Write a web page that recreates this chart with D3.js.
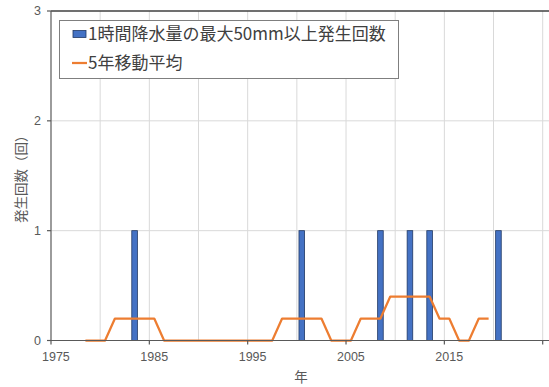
<!DOCTYPE html>
<html><head><meta charset="utf-8">
<script src="https://cdn.jsdelivr.net/npm/d3@7"></script>
<style>
html,body{margin:0;padding:0;background:#fff;}
svg{display:block;}
</style></head>
<body>
<svg id="chart" width="549" height="387"></svg>
<script>
// Data
const barYears = [1983, 2000, 2008, 2011, 2013, 2020];
const barCounts = [1, 1, 1, 1, 1, 1];
const maYears = [1978,1979,1980,1981,1982,1983,1984,1985,1986,1987,1988,1989,1990,1991,1992,1993,1994,1995,1996,1997,1998,1999,2000,2001,2002,2003,2004,2005,2006,2007,2008,2009,2010,2011,2012,2013,2014,2015,2016,2017,2018,2019];
const maValues = [0,0,0,0.2,0.2,0.2,0.2,0.2,0,0,0,0,0,0,0,0,0,0,0,0,0.2,0.2,0.2,0.2,0.2,0,0,0,0.2,0.2,0.2,0.4,0.4,0.4,0.4,0.4,0.2,0.2,0,0,0.2,0.2];
const xTickYears = [1975,1985,1995,2005,2015,2025];
const xLabelYears = [1975,1985,1995,2005,2015];
const xGridYears = [1980,1985,1990,1995,2000,2005,2010,2015,2020,2025];
const yTicks = [0,1,2,3];
const legendLabels = ["1時間降水量の最大50mm以上発生回数", "5年移動平均"];
const yTitle = "発生回数（回）";
const xTitle = "年";

(function () {
const svg = d3.select("#chart");
const pL = 51, pR = 549, pT = 11, pB = 340.5;
const x = d3.scaleLinear().domain([1975, 2025]).range([pL, pL + 491.7]);
const y = d3.scaleLinear().domain([0, 3]).range([pB, pT]);
const textColor = "#595959";
const tickFont = "Liberation Sans, Arial, sans-serif";
const cjkFont = "Noto Sans CJK JP, sans-serif";

// gridlines
svg.append("g").selectAll("line").data(xGridYears).join("line")
  .attr("x1", d => x(d)).attr("x2", d => x(d))
  .attr("y1", pT).attr("y2", pB)
  .attr("stroke", "#d9d9d9").attr("stroke-width", 1);
svg.append("g").selectAll("line").data([1,2]).join("line")
  .attr("x1", pL).attr("x2", pR)
  .attr("y1", d => y(d)).attr("y2", d => y(d))
  .attr("stroke", "#d9d9d9").attr("stroke-width", 1);
// top line
svg.append("line").attr("x1", pL).attr("x2", pR)
  .attr("y1", y(3)).attr("y2", y(3))
  .attr("stroke", "#404040").attr("stroke-width", 1.5);

// bars
const barW = 5.6;
svg.append("g").selectAll("rect").data(barYears).join("rect")
  .attr("x", (d) => x(d + 0.5) - barW / 2)
  .attr("width", barW)
  .attr("y", (d, i) => y(barCounts[i]))
  .attr("height", (d, i) => y(0) - y(barCounts[i]))
  .attr("fill", "#4472C4").attr("stroke", "#203864").attr("stroke-width", 0.8);

// moving average
const line = d3.line().x((d, i) => x(maYears[i] + 0.5)).y(d => y(d));
svg.append("path").datum(maValues)
  .attr("d", line).attr("fill", "none")
  .attr("stroke", "#ED7D31").attr("stroke-width", 2.25).attr("stroke-linejoin", "round");

// axes
svg.append("line").attr("x1", pL).attr("x2", pL).attr("y1", pT).attr("y2", pB)
  .attr("stroke", "#595959").attr("stroke-width", 1.2);
svg.append("line").attr("x1", pL - 4).attr("x2", pR).attr("y1", pB).attr("y2", pB)
  .attr("stroke", "#595959").attr("stroke-width", 1.2);
svg.append("g").selectAll("line").data(yTicks).join("line")
  .attr("x1", pL - 4).attr("x2", pL)
  .attr("y1", d => y(d)).attr("y2", d => y(d))
  .attr("stroke", "#595959").attr("stroke-width", 1.2);
svg.append("g").selectAll("line").data(xTickYears).join("line")
  .attr("x1", d => x(d)).attr("x2", d => x(d))
  .attr("y1", pB).attr("y2", pB + 4)
  .attr("stroke", "#595959").attr("stroke-width", 1.2);

svg.append("g").selectAll("text").data(yTicks).join("text")
  .attr("x", pL - 10).attr("y", d => y(d))
  .attr("dy", "0.35em").attr("text-anchor", "end")
  .attr("font-family", tickFont).attr("font-size", 12.5).attr("fill", textColor)
  .text(d => d);
svg.append("g").selectAll("text").data(xLabelYears).join("text")
  .attr("x", d => x(d + 0.5)).attr("y", 361)
  .attr("text-anchor", "middle")
  .attr("font-family", tickFont).attr("font-size", 12.5).attr("fill", textColor)
  .text(d => d);

// titles
svg.append("text").attr("transform", `translate(26,${(pT + pB) / 2}) rotate(-90)`)
  .attr("text-anchor", "middle")
  .attr("font-family", cjkFont).attr("font-size", 13.5).attr("fill", textColor)
  .text(yTitle);
svg.append("text").attr("x", 301).attr("y", 382)
  .attr("text-anchor", "middle")
  .attr("font-family", cjkFont).attr("font-size", 13.5).attr("fill", textColor)
  .text(xTitle);

// legend
const lg = svg.append("g");
lg.append("rect").attr("x", 59.5).attr("y", 20.5).attr("width", 339).attr("height", 58)
  .attr("fill", "#fff").attr("stroke", "#7f7f7f").attr("stroke-width", 1);
lg.append("rect").attr("x", 73).attr("y", 30.5).attr("width", 13).attr("height", 7)
  .attr("fill", "#4472C4").attr("stroke", "#203864").attr("stroke-width", 0.8);
lg.append("line").attr("x1", 72).attr("x2", 87).attr("y1", 63).attr("y2", 63)
  .attr("stroke", "#ED7D31").attr("stroke-width", 2.25);
lg.selectAll("text").data(legendLabels).join("text")
  .attr("x", 88).attr("y", (d, i) => 34 + i * 29)
  .attr("dy", "0.35em")
  .attr("font-family", cjkFont).attr("font-size", 17).attr("fill", "#404040")
  .text(d => d);
})();
</script>
</body></html>
